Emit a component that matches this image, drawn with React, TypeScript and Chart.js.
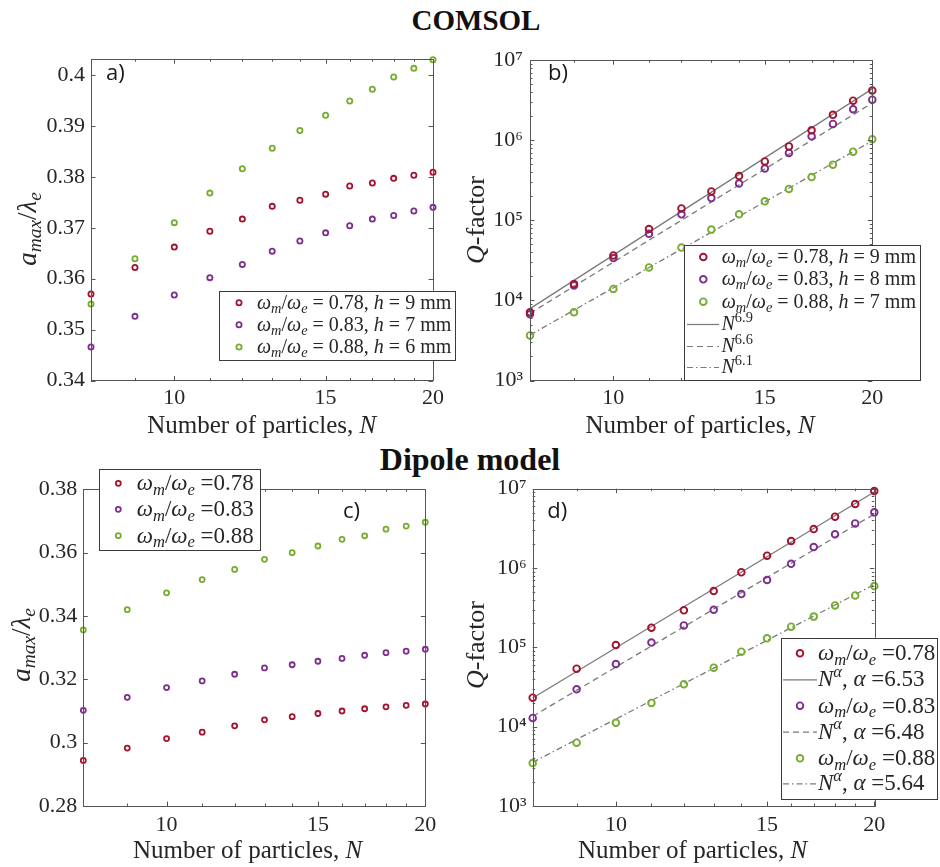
import React, { useEffect, useRef } from "react";
import { Chart, registerables } from "chart.js";
Chart.register(...registerables);

// ---------- data ----------
const particles = [8, 9, 10, 11, 12, 13, 14, 15, 16, 17, 18, 19, 20];
const xTicks = [10, 15, 20];
const xMinor = [9, 11, 12, 13, 14, 16, 17, 18, 19];
const fitEnds = [8, 20];

// a) COMSOL, a_max / lambda_e
const aRed = [0.357, 0.3622, 0.3662, 0.3693, 0.3717, 0.3742, 0.3754, 0.3766, 0.3782, 0.3788, 0.3797, 0.3803, 0.3809];
const aPurple = [0.3466, 0.3526, 0.3568, 0.3602, 0.3628, 0.3654, 0.3674, 0.369, 0.3704, 0.3717, 0.3724, 0.3733, 0.374];
const aGreen = [0.355, 0.3639, 0.371, 0.3768, 0.3816, 0.3856, 0.3891, 0.3921, 0.3949, 0.3972, 0.3996, 0.4013, 0.403];
const aYTicks = [0.34, 0.35, 0.36, 0.37, 0.38, 0.39, 0.4];

// b) COMSOL, Q-factor
const bRed = [7.1e3, 1.6e4, 3.65e4, 7.8e4, 1.41e5, 2.3e5, 3.57e5, 5.45e5, 8.39e5, 1.33e6, 2.08e6, 3.12e6, 4.18e6];
const bPurple = [6.7e3, 1.54e4, 3.38e4, 6.78e4, 1.19e5, 1.9e5, 2.88e5, 4.43e5, 6.95e5, 1.12e6, 1.6e6, 2.44e6, 3.21e6];
const bGreen = [3.65e3, 7.1e3, 1.39e4, 2.58e4, 4.57e4, 7.66e4, 1.19e5, 1.73e5, 2.47e5, 3.47e5, 4.96e5, 7.21e5, 1.03e6];
const bFit69 = [7.9e3, 4.38e6];
const bFit66 = [6.9e3, 2.92e6];
const bFit61 = [3.69e3, 9.84e5];

// c) Dipole model, a_max / lambda_e
const cRed = [0.2944, 0.2983, 0.3013, 0.3033, 0.3053, 0.3072, 0.3082, 0.3092, 0.31, 0.3107, 0.3113, 0.3118, 0.3122];
const cPurple = [0.3102, 0.3143, 0.3174, 0.3195, 0.3216, 0.3236, 0.3246, 0.3257, 0.3266, 0.3276, 0.3284, 0.3289, 0.3295];
const cGreen = [0.3356, 0.342, 0.3473, 0.3515, 0.3547, 0.3579, 0.36, 0.3621, 0.3642, 0.3653, 0.3674, 0.3684, 0.3696];
const cYTicks = [0.28, 0.3, 0.32, 0.34, 0.36, 0.38];

// d) Dipole model, Q-factor
const dRed = [2.32e4, 5.38e4, 1.07e5, 1.77e5, 2.93e5, 5.13e5, 8.82e5, 1.43e6, 2.19e6, 3.1e6, 4.44e6, 6.41e6, 9.35e6];
const dPurple = [1.29e4, 2.96e4, 6.17e4, 1.15e5, 1.89e5, 2.98e5, 4.7e5, 7.06e5, 1.13e6, 1.84e6, 2.66e6, 3.65e6, 5.03e6];
const dGreen = [3.48e3, 6.29e3, 1.12e4, 1.99e4, 3.42e4, 5.54e4, 8.82e4, 1.3e5, 1.82e5, 2.44e5, 3.38e5, 4.52e5, 5.93e5];
const dFit653 = [2.3e4, 9.1e6];
const dFit648 = [1.35e4, 4.8e6];
const dFit564 = [3.55e3, 6.2e5];

const logTicks = [1e3, 1e4, 1e5, 1e6, 1e7];
const logDecades = [1e3, 1e4, 1e5, 1e6];
const logSteps = [2, 3, 4, 5, 6, 7, 8, 9];
const logMinor = logDecades.flatMap((d) => logSteps.map((s) => s * d));

// ---------- style ----------
const SERIF = '"Liberation Serif", "Times New Roman", serif';
const SANS = '"Open Sans", "DejaVu Sans", sans-serif';
const TXT = "#262626";
const AX = "#555555";
const RED = "#A2142F";
const PURPLE = "#7E2F8E";
const GREEN = "#77AC30";
const FIT = "#7a7a7a";
const SOLID: number[] = [];
const DASH = [6, 4];
const DASHDOT = [6, 3, 1.5, 3];

type Seg = { t: string; i?: boolean; s?: "sub" | "sup" };
const omega: Seg[] = [{ t: "ω", i: true }, { t: "m", i: true, s: "sub" }, { t: "/" }, { t: "ω", i: true }, { t: "e", i: true, s: "sub" }];
const aLabel: Seg[] = [{ t: "a", i: true }, { t: "max", i: true, s: "sub" }, { t: "/" }, { t: "λ", i: true }, { t: "e", i: true, s: "sub" }];
const qLabel: Seg[] = [{ t: "Q", i: true }, { t: "-factor" }];
const nLabel: Seg[] = [{ t: "Number of particles, " }, { t: "N", i: true }];
const pw = (e: string): Seg[] => [{ t: "N", i: true }, { t: e, s: "sup" }];
const pwa = (v: string): Seg[] => [{ t: "N", i: true }, { t: "α", i: true, s: "sup" }, { t: ", " }, { t: "α", i: true }, { t: " =" + v }];

const SUP: Record<number, string> = { 3: "³", 4: "⁴", 5: "⁵", 6: "⁶", 7: "⁷" };

type Item = { y: number; kind: "marker" | "line"; color?: string; dash?: number[]; label: Seg[] };
type Panel = {
  canvas: { x: number; y: number; w: number; h: number };
  plot: { l: number; t: number; r: number; b: number };
  yType: "linear" | "logarithmic";
  yMin: number;
  yMax: number;
  yTicks: number[];
  yMinor: number[];
  yLabel: (v: number) => string;
  yPad: number;
  xPad: number;
  series: { data: number[]; color: string }[];
  fits: { data: number[]; dash: number[] }[];
  mr: number;
  mw: number;
  xTitle: { x: number; y: number };
  yTitle: { x: number; y: number; segs: Seg[]; size: number };
  letter: { t: string; x: number; y: number };
  legend: { x: number; y: number; w: number; h: number; size: number; markerX: number; textX: number; lineX0: number; lineX1: number; lineTextX: number; items: Item[] };
};

const linLabel = (v: number) => String(Math.round(v * 100) / 100);
const logLabel = (v: number) => "10" + SUP[Math.round(Math.log10(v))];

const panels: Panel[] = [
  {
    canvas: { x: 0, y: 40, w: 460, h: 400 },
    plot: { l: 91, t: 53.7, r: 433, b: 380.5 },
    yType: "linear", yMin: 0.34, yMax: 0.4031, yTicks: aYTicks, yMinor: [], yLabel: linLabel, yPad: 6, xPad: 5,
    series: [{ data: aRed, color: RED }, { data: aPurple, color: PURPLE }, { data: aGreen, color: GREEN }],
    fits: [], mr: 2.6, mw: 1.8,
    xTitle: { x: 261.7, y: 433.3 },
    yTitle: { x: 36, y: 229, segs: aLabel, size: 27 },
    letter: { t: "a)", x: 106, y: 80 },
    legend: {
      x: 219.3, y: 290.7, w: 236, h: 69.3, size: 20, markerX: 239, textX: 257, lineX0: 0, lineX1: 0, lineTextX: 0,
      items: [
        { y: 302.7, kind: "marker", color: RED, label: [...omega, { t: " = 0.78, " }, { t: "h", i: true }, { t: " = 9 mm" }] },
        { y: 324.7, kind: "marker", color: PURPLE, label: [...omega, { t: " = 0.83, " }, { t: "h", i: true }, { t: " = 7 mm" }] },
        { y: 347, kind: "marker", color: GREEN, label: [...omega, { t: " = 0.88, " }, { t: "h", i: true }, { t: " = 6 mm" }] },
      ],
    },
  },
  {
    canvas: { x: 450, y: 40, w: 490, h: 400 },
    plot: { l: 530, t: 53.7, r: 872.3, b: 380.5 },
    yType: "logarithmic", yMin: 1e3, yMax: 1e7, yTicks: logTicks, yMinor: logMinor, yLabel: logLabel, yPad: 7, xPad: 5,
    series: [{ data: bRed, color: RED }, { data: bPurple, color: PURPLE }, { data: bGreen, color: GREEN }],
    fits: [{ data: bFit69, dash: SOLID }, { data: bFit66, dash: DASH }, { data: bFit61, dash: DASHDOT }],
    mr: 3.3, mw: 1.9,
    xTitle: { x: 700, y: 433.3 },
    yTitle: { x: 484, y: 220, segs: qLabel, size: 26 },
    letter: { t: "b)", x: 548, y: 80 },
    legend: {
      x: 684, y: 245.3, w: 236, h: 135.2, size: 20, markerX: 703.3, textX: 721.7, lineX0: 687, lineX1: 719, lineTextX: 721.5,
      items: [
        { y: 257, kind: "marker", color: RED, label: [...omega, { t: " = 0.78, " }, { t: "h", i: true }, { t: " = 9 mm" }] },
        { y: 279.3, kind: "marker", color: PURPLE, label: [...omega, { t: " = 0.83, " }, { t: "h", i: true }, { t: " = 8 mm" }] },
        { y: 301.7, kind: "marker", color: GREEN, label: [...omega, { t: " = 0.88, " }, { t: "h", i: true }, { t: " = 7 mm" }] },
        { y: 324, kind: "line", dash: SOLID, label: pw("6.9") },
        { y: 346, kind: "line", dash: DASH, label: pw("6.6") },
        { y: 367, kind: "line", dash: DASHDOT, label: pw("6.1") },
      ],
    },
  },
  {
    canvas: { x: 0, y: 445, w: 460, h: 422 },
    plot: { l: 83.3, t: 489.3, r: 425.3, b: 806 },
    yType: "linear", yMin: 0.28, yMax: 0.38, yTicks: cYTicks, yMinor: [], yLabel: linLabel, yPad: 6, xPad: 6,
    series: [{ data: cRed, color: RED }, { data: cPurple, color: PURPLE }, { data: cGreen, color: GREEN }],
    fits: [], mr: 2.5, mw: 1.8,
    xTitle: { x: 247.5, y: 858.3 },
    yTitle: { x: 30, y: 645, segs: aLabel, size: 27 },
    letter: { t: "c)", x: 343, y: 518 },
    legend: {
      x: 99.3, y: 469.3, w: 160.7, h: 80.7, size: 23, markerX: 118.3, textX: 136.7, lineX0: 0, lineX1: 0, lineTextX: 0,
      items: [
        { y: 483.3, kind: "marker", color: RED, label: [...omega, { t: " =0.78" }] },
        { y: 509.3, kind: "marker", color: PURPLE, label: [...omega, { t: " =0.83" }] },
        { y: 535.7, kind: "marker", color: GREEN, label: [...omega, { t: " =0.88" }] },
      ],
    },
  },
  {
    canvas: { x: 450, y: 445, w: 490, h: 422 },
    plot: { l: 532.7, t: 488.7, r: 874.3, b: 806 },
    yType: "logarithmic", yMin: 1e3, yMax: 1e7, yTicks: logTicks, yMinor: logMinor, yLabel: logLabel, yPad: 6, xPad: 6,
    series: [{ data: dRed, color: RED }, { data: dPurple, color: PURPLE }, { data: dGreen, color: GREEN }],
    fits: [{ data: dFit653, dash: SOLID }, { data: dFit648, dash: DASH }, { data: dFit564, dash: DASHDOT }],
    mr: 3.3, mw: 1.9,
    xTitle: { x: 692.5, y: 858.3 },
    yTitle: { x: 484, y: 645, segs: qLabel, size: 26 },
    letter: { t: "d)", x: 547.3, y: 518 },
    legend: {
      x: 780.7, y: 637.7, w: 156.3, h: 161.3, size: 23, markerX: 800, textX: 818, lineX0: 783, lineX1: 817, lineTextX: 818,
      items: [
        { y: 653.3, kind: "marker", color: RED, label: [...omega, { t: " =0.78" }] },
        { y: 679.3, kind: "line", dash: SOLID, label: pwa("6.53") },
        { y: 705.7, kind: "marker", color: PURPLE, label: [...omega, { t: " =0.83" }] },
        { y: 731.7, kind: "line", dash: DASH, label: pwa("6.48") },
        { y: 758.3, kind: "marker", color: GREEN, label: [...omega, { t: " =0.88" }] },
        { y: 783.3, kind: "line", dash: DASHDOT, label: pwa("5.64") },
      ],
    },
  },
];

// ---------- drawing helpers ----------
function segFont(seg: Seg, size: number) {
  const sz = seg.s ? size * 0.72 : size;
  return `${seg.i ? "italic " : ""}${sz}px ${SERIF}`;
}
function drawRich(ctx: CanvasRenderingContext2D, segs: Seg[], x: number, y: number, size: number, align: "left" | "center") {
  let w = 0;
  for (const s of segs) {
    ctx.font = segFont(s, size);
    w += ctx.measureText(s.t).width;
  }
  let cx = align === "center" ? x - w / 2 : x;
  ctx.textAlign = "left";
  ctx.textBaseline = "alphabetic";
  for (const s of segs) {
    ctx.font = segFont(s, size);
    const dy = s.s === "sub" ? size * 0.2 : s.s === "sup" ? -size * 0.42 : 0;
    ctx.fillText(s.t, cx, y + dy);
    cx += ctx.measureText(s.t).width;
  }
}

function decorPlugin(p: Panel) {
  return {
    id: "decor",
    afterDraw(chart: any) {
      const ctx: CanvasRenderingContext2D = chart.ctx;
      const ox = p.canvas.x, oy = p.canvas.y;
      const xs = chart.scales.x, ys = chart.scales.y;
      const { left, right, top, bottom } = chart.chartArea;
      const MAJ = 4.5, MIN = 2.5;
      ctx.save();
      ctx.strokeStyle = AX;
      ctx.lineWidth = 1;
      ctx.setLineDash([]);
      ctx.beginPath();
      const vx = (v: number, len: number) => {
        const px = Math.round(xs.getPixelForValue(v)) + 0.5;
        ctx.moveTo(px, bottom); ctx.lineTo(px, bottom - len);
        ctx.moveTo(px, top); ctx.lineTo(px, top + len);
      };
      const vy = (v: number, len: number) => {
        const py = Math.round(ys.getPixelForValue(v)) + 0.5;
        ctx.moveTo(left, py); ctx.lineTo(left + len, py);
        ctx.moveTo(right, py); ctx.lineTo(right - len, py);
      };
      xTicks.forEach((v) => vx(v, MAJ));
      xMinor.forEach((v) => vx(v, MIN));
      p.yTicks.forEach((v) => vy(v, MAJ));
      p.yMinor.forEach((v) => vy(v, MIN));
      ctx.stroke();
      ctx.strokeRect(Math.round(left) + 0.5, Math.round(top) + 0.5, Math.round(right - left), Math.round(bottom - top));

      // axis titles
      ctx.fillStyle = TXT;
      drawRich(ctx, nLabel, p.xTitle.x - ox, p.xTitle.y - oy, 25, "center");
      ctx.save();
      ctx.translate(p.yTitle.x - ox, p.yTitle.y - oy);
      ctx.rotate(-Math.PI / 2);
      drawRich(ctx, p.yTitle.segs, 0, 0, p.yTitle.size, "center");
      ctx.restore();

      // panel letter
      ctx.fillStyle = "#1a1a1a";
      ctx.font = `22px ${SANS}`;
      ctx.textAlign = "left";
      ctx.textBaseline = "alphabetic";
      ctx.fillText(p.letter.t, p.letter.x - ox, p.letter.y - oy);

      // legend
      const L = p.legend;
      ctx.fillStyle = "#ffffff";
      ctx.fillRect(L.x - ox, L.y - oy, L.w, L.h);
      ctx.strokeStyle = "#3a3a3a";
      ctx.lineWidth = 1;
      ctx.strokeRect(Math.round(L.x - ox) + 0.5, Math.round(L.y - oy) + 0.5, Math.round(L.w), Math.round(L.h));
      for (const it of L.items) {
        const cy = it.y - oy;
        if (it.kind === "marker") {
          ctx.strokeStyle = it.color!;
          ctx.lineWidth = p.mw;
          ctx.setLineDash([]);
          ctx.beginPath();
          ctx.arc(L.markerX - ox, cy, p.mr, 0, Math.PI * 2);
          ctx.stroke();
          ctx.fillStyle = TXT;
          drawRich(ctx, it.label, L.textX - ox, cy + L.size * 0.3, L.size, "left");
        } else {
          ctx.strokeStyle = FIT;
          ctx.lineWidth = 1.2;
          ctx.setLineDash(it.dash || []);
          ctx.beginPath();
          ctx.moveTo(L.lineX0 - ox, cy + 0.5);
          ctx.lineTo(L.lineX1 - ox, cy + 0.5);
          ctx.stroke();
          ctx.setLineDash([]);
          ctx.fillStyle = TXT;
          drawRich(ctx, it.label, L.lineTextX - ox, cy + L.size * 0.3, L.size, "left");
        }
      }
      ctx.restore();
    },
  };
}

function buildConfig(p: Panel): any {
  const markerSets = p.series.map((s) => ({
    data: particles.map((x, i) => ({ x, y: s.data[i] })),
    borderColor: s.color,
    backgroundColor: "rgba(0,0,0,0)",
    pointRadius: p.mr,
    pointBorderWidth: p.mw,
    pointStyle: "circle",
    showLine: false,
    clip: false,
    order: 0,
  }));
  const fitSets = p.fits.map((f) => ({
    data: fitEnds.map((x, i) => ({ x, y: f.data[i] })),
    borderColor: FIT,
    borderWidth: 1.3,
    borderDash: f.dash,
    pointRadius: 0,
    showLine: true,
    fill: false,
    clip: false,
    order: 1,
  }));
  const tickFont = { family: SERIF, size: 22 };
  return {
    type: "scatter",
    data: { datasets: [...markerSets, ...fitSets] },
    options: {
      animation: false,
      responsive: false,
      maintainAspectRatio: false,
      devicePixelRatio: 1,
      events: [],
      layout: {
        padding: { left: 0, top: p.plot.t - p.canvas.y, right: p.canvas.x + p.canvas.w - p.plot.r, bottom: 0 },
      },
      plugins: { legend: { display: false }, tooltip: { enabled: false }, title: { display: false } },
      scales: {
        x: {
          type: "logarithmic",
          position: "bottom",
          min: 8,
          max: 20,
          afterBuildTicks: (s: any) => { s.ticks = xTicks.map((v) => ({ value: v })); },
          afterFit: (s: any) => { s.height = p.canvas.y + p.canvas.h - p.plot.b; },
          ticks: { callback: (v: any) => String(v), font: tickFont, color: TXT, padding: p.xPad, autoSkip: false, maxRotation: 0 },
          grid: { display: false, drawTicks: false },
          border: { display: false },
        },
        y: {
          type: p.yType,
          position: "left",
          min: p.yMin,
          max: p.yMax,
          afterBuildTicks: (s: any) => { s.ticks = p.yTicks.map((v) => ({ value: v })); },
          afterFit: (s: any) => { s.width = p.plot.l - p.canvas.x; },
          ticks: { callback: (v: any) => p.yLabel(Number(v)), font: tickFont, color: TXT, padding: p.yPad, autoSkip: false },
          grid: { display: false, drawTicks: false },
          border: { display: false },
        },
      },
    },
    plugins: [decorPlugin(p)],
  };
}

function PanelChart({ p }: { p: Panel }) {
  const ref = useRef<HTMLCanvasElement>(null);
  useEffect(() => {
    const chart = new Chart(ref.current as HTMLCanvasElement, buildConfig(p));
    return () => chart.destroy();
  }, []);
  return (
    <canvas
      ref={ref}
      width={p.canvas.w}
      height={p.canvas.h}
      style={{ position: "absolute", left: p.canvas.x, top: p.canvas.y, width: p.canvas.w, height: p.canvas.h }}
    />
  );
}

const titleStyle: React.CSSProperties = {
  position: "absolute",
  fontFamily: SERIF,
  fontWeight: "bold",
  lineHeight: 1,
  textAlign: "center",
  color: "#111",
  whiteSpace: "nowrap",
};

export default function App() {
  return (
    <div style={{ position: "absolute", left: 0, top: 0, width: 940, height: 867, background: "#fff", overflow: "hidden" }}>
      <div style={{ ...titleStyle, left: 276, width: 400, top: 6.2, fontSize: 29 }}>COMSOL</div>
      <div style={{ ...titleStyle, left: 270, width: 400, top: 443.2, fontSize: 32 }}>Dipole model</div>
      {panels.map((p, i) => (
        <PanelChart key={i} p={p} />
      ))}
    </div>
  );
}
